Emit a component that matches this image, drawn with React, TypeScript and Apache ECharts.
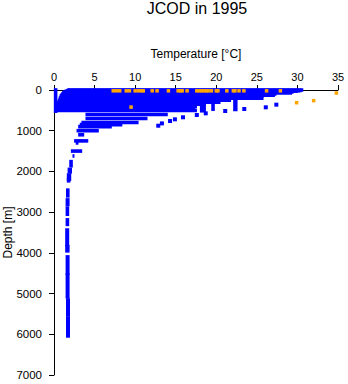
import React, { useEffect, useRef } from "react";
import * as echarts from "echarts";

const FONT = "Liberation Sans, Arial, Helvetica, sans-serif";

// Blue profiles: horizontal rows at standard depths [depth, Tmin, Tmax]
const rowDepth = [0, 10, 20, 30, 50, 75, 100, 125, 150, 200, 250, 300, 350, 400, 450, 500, 600, 700, 800, 850, 900, 1000, 1100, 1250, 1300, 1500, 1620];
const rowTmin = [1.9, 1.8, 1.7, 1.5, 1.3, 1.2, 1.1, 1.0, 0.9, 0.8, 0.7, 0.6, 0.55, 0.5, 0.5, 0.5, 4.1, 4.1, 3.6, 3.4, 3.2, 3.0, 3.2, 2.7, 2.9, 2.3, 2.5];
const rowTmax = [30.5, 30.3, 30.1, 29.8, 29.3, 29.1, 27.2, 27.0, 25.6, 25.6, 21.6, 20.3, 18.5, 17.4, 17.2, 17.4, 13.8, 11.3, 10.2, 8.2, 6.9, 5.3, 3.5, 4.0, 2.8, 3.25, 2.3];

// Blue vertical runs of points [Tmin, Tmax, depth top, depth bottom]
const runTmin = [0.2, 18.2, 19.6, 22.3, 2.1, 1.9, 1.8, 1.8, 1.7, 1.65, 1.65, 1.65, 1.6, 1.6, 1.6, 1.65, 1.65, 1.7, 1.7];
const runTmax = [0.2, 18.5, 19.6, 22.4, 2.1, 2.0, 1.9, 1.8, 1.7, 1.7, 1.65, 1.65, 1.65, 1.65, 1.7, 1.7, 1.7, 1.75, 1.75];
const runTop = [0, 250, 250, 200, 1760, 1950, 2090, 2200, 2460, 2700, 2900, 3190, 3440, 3680, 3850, 4100, 4550, 5160, 5600];
const runBottom = [520, 510, 470, 480, 1860, 2010, 2190, 2230, 2600, 2810, 3050, 3300, 3600, 3790, 3950, 4500, 5080, 5520, 6040];

// Isolated blue points
const blueT = [12.85, 13.3, 14.3, 14.9, 15.9, 17.6, 18.7, 21.1, 23.45, 26.1, 27.4];
const blueDepth = [877, 820, 762, 720, 670, 614, 573, 516, 467, 425, 360];

// Orange points
const orangeT = [7.3, 7.7, 8.1, 8.9, 9.3, 10.0, 10.4, 10.8, 11.0, 12.1, 12.7, 14.1, 15.3, 15.6, 15.8, 16.4, 17.6, 17.9, 18.2, 18.5, 18.8, 19.0, 19.4, 20.0, 20.2, 21.3, 22.1, 22.3, 22.8, 23.4, 26.2, 27.9, 9.5, 29.9, 32.0, 34.8];
const orangeDepth = [20, 20, 20, 20, 20, 20, 20, 20, 20, 20, 20, 20, 20, 20, 20, 20, 20, 20, 20, 20, 20, 20, 20, 20, 20, 20, 20, 20, 20, 20, 20, 20, 420, 312, 262, 74];

const BLUE = "#0000ff";
const ORANGE = "#ffa500";

export default function App() {
  const ref = useRef<HTMLDivElement>(null);
  useEffect(() => {
    if (!ref.current) return;
    const chart = echarts.init(ref.current, undefined, { renderer: "svg" });
    const blocks: number[][] = [];
    rowDepth.forEach((d, i) => blocks.push([rowTmin[i], rowTmax[i], d, d]));
    runTmin.forEach((t, i) => blocks.push([t, runTmax[i], runTop[i], runBottom[i]]));
    const half = 1.8;
    chart.setOption({
      animation: false,
      title: {
        text: "JCOD in 1995",
        left: 197,
        top: 0,
        padding: 0,
        textAlign: "center",
        textStyle: { fontSize: 16, fontWeight: "normal", fontFamily: FONT, color: "#000" },
      },
      grid: { left: 54, right: 10, top: 90, bottom: 9, containLabel: false, outerBoundsMode: "none" },
      xAxis: {
        type: "value",
        position: "top",
        min: 0,
        max: 35,
        interval: 5,
        name: "Temperature [°C]",
        nameLocation: "middle",
        nameGap: 30,
        nameMoveOverlap: false,
        nameTextStyle: { fontSize: 12, fontFamily: FONT, color: "#000" },
        axisLine: { show: true, onZero: false, lineStyle: { color: "#000", width: 1 } },
        axisTick: { show: true, inside: false, length: 5, lineStyle: { color: "#000" } },
        axisLabel: { fontSize: 11, fontFamily: FONT, color: "#000", margin: 8 },
        splitLine: { show: false },
      },
      yAxis: {
        type: "value",
        inverse: true,
        min: 0,
        max: 7000,
        interval: 1000,
        name: "Depth [m]",
        nameLocation: "middle",
        nameGap: 40,
        nameMoveOverlap: false,
        nameTextStyle: { fontSize: 12, fontFamily: FONT, color: "#000" },
        axisLine: { show: true, onZero: false, lineStyle: { color: "#000", width: 1 } },
        axisTick: { show: true, inside: false, length: 5, lineStyle: { color: "#000" } },
        axisLabel: { fontSize: 11.5, fontFamily: FONT, color: "#000", margin: 12, formatter: (v: number) => String(v) },
        splitLine: { show: false },
      },
      series: [
        {
          type: "custom",
          clip: false,
          data: blocks,
          encode: { x: [0, 1], y: [2, 3] },
          renderItem: (params: any, api: any) => {
            const p1 = api.coord([api.value(0), api.value(2)]);
            const p2 = api.coord([api.value(1), api.value(3)]);
            return {
              type: "rect",
              shape: {
                x: p1[0] - half,
                y: p1[1] - half,
                width: p2[0] - p1[0] + 2 * half,
                height: p2[1] - p1[1] + 2 * half,
              },
              style: { fill: BLUE },
            };
          },
        },
        {
          type: "scatter",
          symbol: "rect",
          symbolSize: 4,
          clip: false,
          itemStyle: { color: BLUE, opacity: 1 },
          data: blueT.map((t, i) => [t, blueDepth[i]]),
        },
        {
          type: "scatter",
          symbol: "rect",
          symbolSize: 3.5,
          clip: false,
          itemStyle: { color: ORANGE, opacity: 1 },
          data: orangeT.map((t, i) => [t, orangeDepth[i]]),
        },
      ],
    });
    return () => chart.dispose();
  }, []);
  return <div ref={ref} style={{ width: 348, height: 384, position: "absolute", left: 0, top: 0 }} />;
}
